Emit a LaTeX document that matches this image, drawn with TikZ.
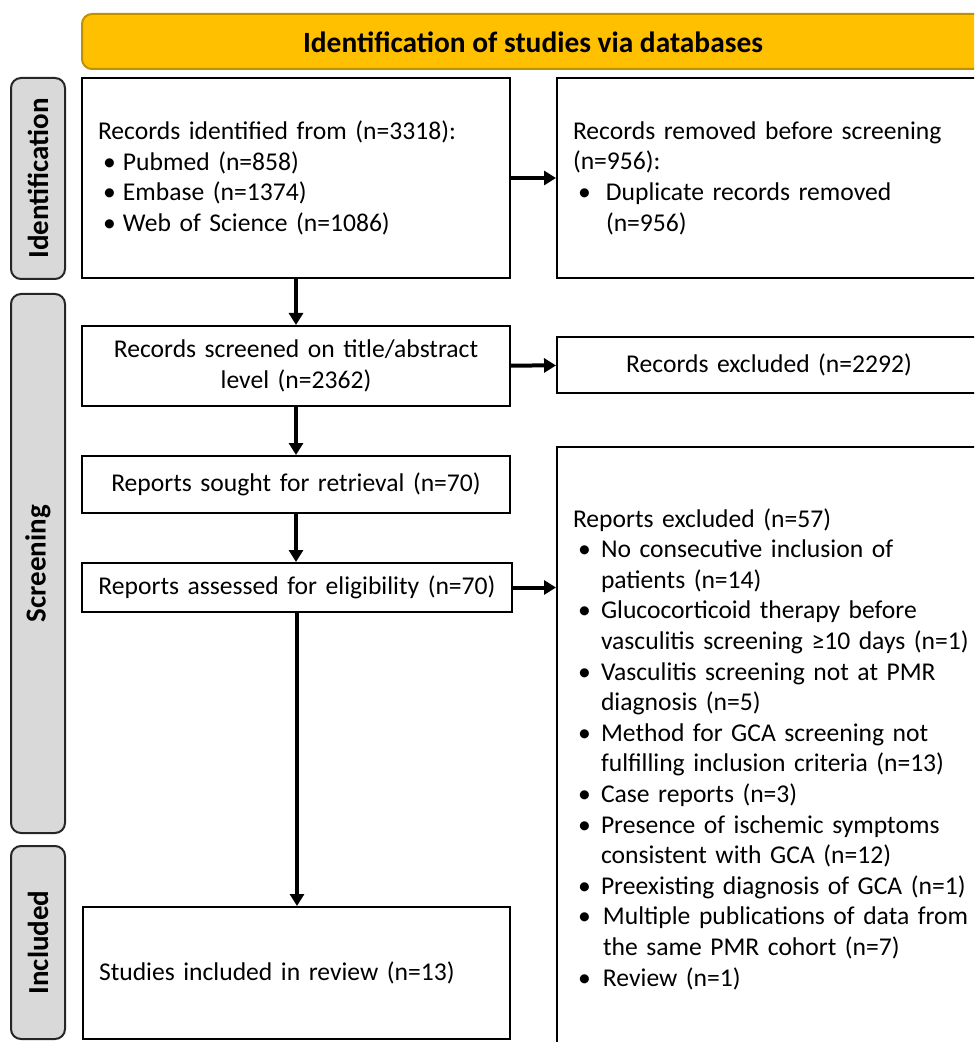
\documentclass[tikz,border=0pt]{standalone}
\usepackage{fontspec}
\setmainfont{Carlito}
\usetikzlibrary{arrows.meta}
\definecolor{hdrfill}{HTML}{FFC000}
\definecolor{hdrline}{HTML}{BF9000}
\definecolor{phasefill}{HTML}{D9D9D9}
\newcommand{\itm}[2]{\hspace*{2.5pt}\makebox[#1][l]{\textbullet}#2}
\newcommand{\cont}[2]{\hspace*{#1}\hspace*{2.5pt}#2}
\begin{document}
\begin{tikzpicture}[x=0.5pt,y=-0.5pt,
  every node/.style={font=\fontsize{12.8}{15.3}\selectfont},
  box/.style={draw,line width=1pt,anchor=north west,inner xsep=8pt,inner ysep=0pt},
  lbox/.style={box,align=left},
  cbox/.style={box,align=center},
  phase/.style={draw=black!85,fill=phasefill,line width=1pt,rounded corners=5pt,
    anchor=north west,minimum width=27pt,inner sep=0pt},
  phasetext/.style={rotate=90,font=\fontsize{14.5}{17}\selectfont\bfseries},
  arr/.style={-{Triangle[length=6pt,width=7pt]},line width=2pt}]
\clip (0,0) rectangle (974,1042);
\node[draw=hdrline,fill=hdrfill,line width=1pt,rounded corners=5pt,anchor=north west,
  minimum width=470pt,minimum height=27.5pt,inner sep=0pt] (hdr) at (81,13) {};
\node[font=\fontsize{14.7}{17}\selectfont\bfseries] (hdrtext) at (533,42) {Identification of studies via databases};
\node[phase,minimum height=100.5pt] (pid) at (10,77) {};
\node[phasetext] at (pid.center) {Identification};
\node[phase,minimum height=269.5pt] (pscr) at (10,293) {};
\node[phasetext] at (pscr.center) {Screening};
\node[phase,minimum height=96.5pt] (pinc) at (10,845) {};
\node[phasetext] at (pinc.center) {Included};
\node[lbox,text width=198pt,minimum height=100pt] (ident) at (81,77) {Records identified from (n=3318):\\
\itm{10pt}{Pubmed (n=858)}\\
\itm{10pt}{Embase (n=1374)}\\
\itm{10pt}{Web of Science (n=1086)}};
\node[lbox,text width=215pt,minimum height=100pt] (removed) at (556,77) {Records removed before screening\\
(n=956):\\
\itm{14pt}{Duplicate records removed}\\
\cont{14pt}{(n=956)}};
\node[cbox,text width=198pt,minimum height=40pt] (screened) at (81,325) {Records screened on title/abstract\\
level (n=2362)};
\node[cbox,text width=196pt,minimum height=28pt] (excl) at (556,336) {Records excluded (n=2292)};
\node[cbox,text width=198pt,minimum height=28.5pt] (sought) at (81,455) {Reports sought for retrieval (n=70)};
\node[cbox,text width=199pt,minimum height=24.5pt] (assessed) at (81,562) {Reports assessed for eligibility (n=70)};
\node[lbox,text width=215pt,minimum height=302pt] (rexcl) at (556,446) {Reports excluded (n=57)\\
\itm{11.5pt}{No consecutive inclusion of}\\
\cont{11.5pt}{patients (n=14)}\\
\itm{11.5pt}{Glucocorticoid therapy before}\\
\cont{11.5pt}{vasculitis screening ≥10 days (n=1)}\\
\itm{11.5pt}{Vasculitis screening not at PMR}\\
\cont{11.5pt}{diagnosis (n=5)}\\
\itm{11.5pt}{Method for GCA screening not}\\
\cont{11.5pt}{fulfilling inclusion criteria (n=13)}\\
\itm{11.5pt}{Case reports (n=3)}\\
\itm{11.5pt}{Presence of ischemic symptoms}\\
\cont{11.5pt}{consistent with GCA (n=12)}\\
\itm{11.5pt}{Preexisting diagnosis of GCA (n=1)}\\
\itm{12.5pt}{Multiple publications of data from}\\
\cont{12.5pt}{the same PMR cohort (n=7)}\\
\itm{12.5pt}{Review (n=1)}};
\node[lbox,text width=197.5pt,minimum height=66pt] (incl) at (82,906) {Studies included in review (n=13)};
\draw[arr] (ident) -- (removed);
\draw[arr] (ident.south) -- (ident.south |- screened.north);
\draw[arr] (screened) -- (excl);
\draw[arr] (screened.south) -- (screened.south |- sought.north);
\draw[arr] (sought.south) -- (sought.south |- assessed.north);
\draw[arr] (assessed.east) -- (assessed.east -| rexcl.west);
\draw[arr] (assessed.south) -- (assessed.south |- incl.north);
\end{tikzpicture}
\end{document}
